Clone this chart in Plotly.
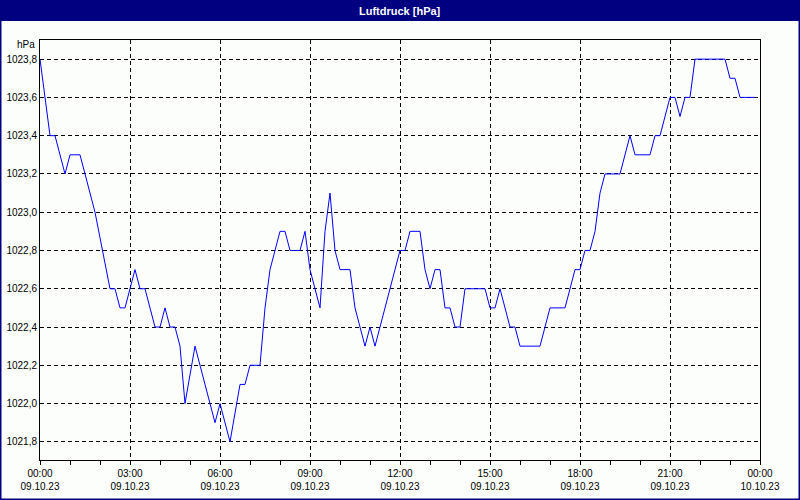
import plotly.graph_objects as go

# Data (time of day on 09.10.23, pressure in hPa)
times = ["00:00","00:20","00:30","00:50","01:00","01:20","01:50","02:20","02:30","02:40",
         "02:50","03:10","03:20","03:30","03:50","04:00","04:10","04:20","04:30","04:40",
         "04:50","05:10","05:50","06:00","06:20","06:40","06:50","07:00","07:20","07:30",
         "07:40","07:50","08:00","08:10","08:20","08:40","08:50","09:00","09:10","09:20",
         "09:30","09:40","09:50","10:00","10:20","10:30","10:40","10:50","11:00","11:10",
         "11:20","11:30","11:40","11:50","12:00","12:10","12:20","12:40","12:50","13:00",
         "13:10","13:20","13:30","13:40","13:50","14:00","14:10","14:50","15:00","15:10",
         "15:20","15:40","15:50","16:00","16:40","17:00","17:30","17:50","18:00","18:10",
         "18:20","18:30","18:40","18:50","19:20","19:40","19:50","20:20","20:30","20:40",
         "21:00","21:10","21:20","21:30","21:40","21:50","22:50","23:00","23:10","23:20",
         "23:50"]
pressure = [1023.8,1023.4,1023.4,1023.2,1023.3,1023.3,1023.0,1022.6,1022.6,1022.5,
            1022.5,1022.7,1022.6,1022.6,1022.4,1022.4,1022.5,1022.4,1022.4,1022.3,
            1022.0,1022.3,1021.9,1022.0,1021.8,1022.1,1022.1,1022.2,1022.2,1022.5,
            1022.7,1022.8,1022.9,1022.9,1022.8,1022.8,1022.9,1022.7,1022.6,1022.5,
            1022.9,1023.1,1022.8,1022.7,1022.7,1022.5,1022.4,1022.3,1022.4,1022.3,
            1022.4,1022.5,1022.6,1022.7,1022.8,1022.8,1022.9,1022.9,1022.7,1022.6,
            1022.7,1022.7,1022.5,1022.5,1022.4,1022.4,1022.6,1022.6,1022.5,1022.5,
            1022.6,1022.4,1022.4,1022.3,1022.3,1022.5,1022.5,1022.7,1022.7,1022.8,
            1022.8,1022.9,1023.1,1023.2,1023.2,1023.4,1023.3,1023.3,1023.4,1023.4,
            1023.6,1023.6,1023.5,1023.6,1023.6,1023.8,1023.8,1023.7,1023.7,1023.6,
            1023.6]

tick_dates = ["2023-10-09 00:00","2023-10-09 03:00","2023-10-09 06:00","2023-10-09 09:00",
              "2023-10-09 12:00","2023-10-09 15:00","2023-10-09 18:00","2023-10-09 21:00",
              "2023-10-10 00:00"]
tick_labels = ["00:00<br>09.10.23","03:00<br>09.10.23","06:00<br>09.10.23","09:00<br>09.10.23",
               "12:00<br>09.10.23","15:00<br>09.10.23","18:00<br>09.10.23","21:00<br>09.10.23",
               "00:00<br>10.10.23"]
y_ticks = [1021.8,1022.0,1022.2,1022.4,1022.6,1022.8,1023.0,1023.2,1023.4,1023.6,1023.8]

title_text = "Luftdruck [hPa]"
unit_text = "hPa"

x = ["2023-10-09 " + t for t in times]

W, H = 800, 500
L, R, T, B = 40, 40, 40, 40
pw, ph = W - L - R, H - T - B

def px(xp):
    return (xp - L) / pw

def py(yp):
    return (H - B - yp) / ph

NAVY = "#000080"
BG = "#FCFEFC"
FONT = "Liberation Sans"

fig = go.Figure()
fig.add_trace(go.Scatter(x=x, y=pressure, mode="lines",
                         line=dict(color="#0000FF", width=1),
                         hoverinfo="x+y", showlegend=False))

fig.update_layout(
    width=W, height=H,
    margin=dict(l=L, r=R, t=T, b=B),
    paper_bgcolor=BG, plot_bgcolor=BG,
    separators=",.",
    font=dict(family=FONT, size=10, color="black"),
    showlegend=False,
    xaxis=dict(
        type="date",
        range=["2023-10-09 00:00", "2023-10-10 00:00"],
        tickmode="array", tickvals=tick_dates, ticktext=tick_labels,
        ticks="outside", ticklen=4, tickcolor="black", tickwidth=1,
        showline=True, linecolor="black", linewidth=1, mirror=True,
        showgrid=True, gridcolor="black", gridwidth=1, griddash="4px,3px",
        minor=dict(dtick=3600000, tick0="2023-10-09 00:00", ticks="outside",
                   ticklen=4, tickcolor="black", showgrid=False),
        zeroline=False, automargin=False,
        tickfont=dict(family=FONT, size=10, color="black"),
        fixedrange=True,
    ),
    yaxis=dict(
        range=[1021.705, 1023.9],
        tickmode="array", tickvals=y_ticks, tickformat=".1f",
        ticks="", showline=True, linecolor="black", linewidth=1, mirror=True,
        showgrid=True, gridcolor="black", gridwidth=1, griddash="4px,3px",
        zeroline=False, automargin=False,
        tickfont=dict(family=FONT, size=10, color="black"),
        fixedrange=True,
    ),
    shapes=[
        dict(type="rect", xref="paper", yref="paper",
             x0=px(0), x1=px(W), y0=py(21), y1=py(0),
             fillcolor=NAVY, line=dict(width=0), layer="above"),
        dict(type="rect", xref="paper", yref="paper",
             x0=px(0), x1=px(W), y0=py(H), y1=py(0),
             fillcolor="rgba(0,0,0,0)", line=dict(color=NAVY, width=3), layer="above"),
    ],
    annotations=[
        dict(text="<b>" + title_text + "</b>", xref="paper", yref="paper",
             x=0.5, y=py(10.5), xanchor="center", yanchor="middle", showarrow=False,
             font=dict(family=FONT, size=11, color="white")),
        dict(text=unit_text, xref="paper", yref="paper",
             x=px(37), y=py(45), xanchor="right", yanchor="middle", showarrow=False,
             font=dict(family=FONT, size=10, color="black")),
    ],
)

fig.write_html("out.html",
               config={"displayModeBar": False, "staticPlot": False},
               post_script="document.body.style.margin='0';document.body.style.overflow='hidden';")
